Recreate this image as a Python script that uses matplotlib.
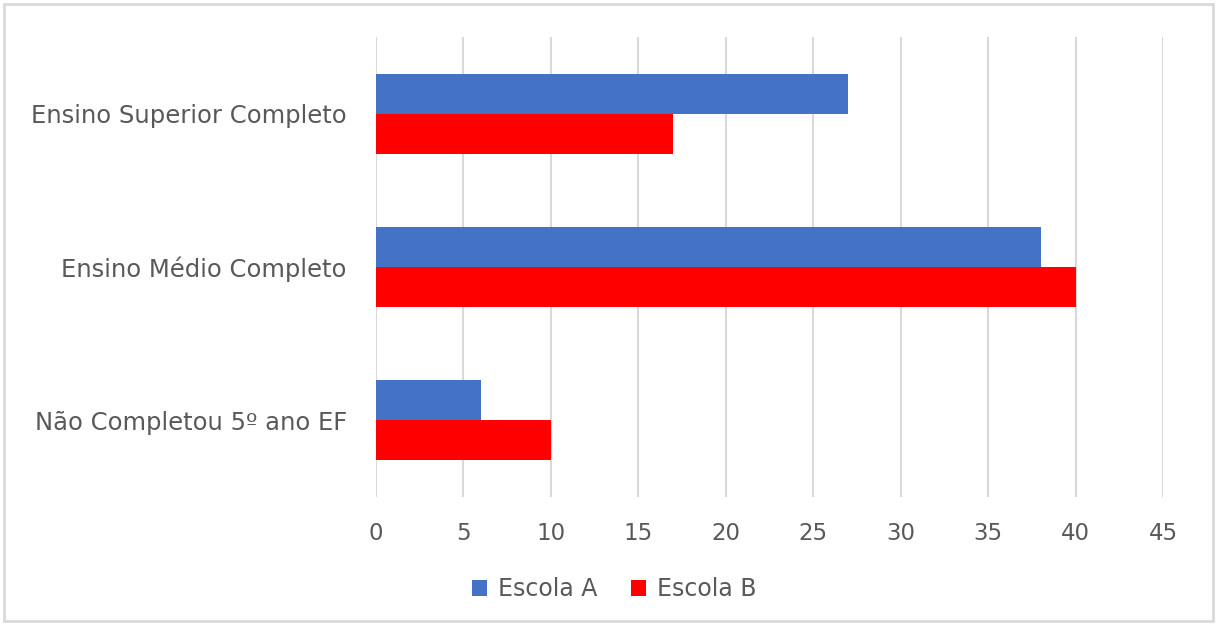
import numpy as np
import matplotlib.pyplot as plt
from matplotlib.patches import Rectangle

# dados
categorias = ['Não Completou 5º ano EF', 'Ensino Médio Completo', 'Ensino Superior Completo']
escola_a = [6, 38, 27]
escola_b = [10, 40, 17]
series = ['Escola A', 'Escola B']
cores = ['#4472C4', '#FF0000']

plt.rcParams['font.family'] = ['DejaVu Sans']
cinza = '#595959'

fig = plt.figure(figsize=(12.16, 6.27), dpi=100)
ax = fig.add_axes([0.3092, 0.2073, 0.6472, 0.7337])

y = np.arange(len(categorias))
h = 0.26
ax.barh(y + h / 2, escola_a, height=h, color=cores[0], label=series[0], zorder=3)
ax.barh(y - h / 2, escola_b, height=h, color=cores[1], label=series[1], zorder=3)

ax.set_xlim(0, 45)
ax.set_ylim(-0.5, 2.5)
ax.set_xticks(np.arange(0, 50, 5))
ax.set_yticks(y)
ax.set_yticklabels(categorias)
ax.tick_params(axis='both', length=0, labelsize=16.5, labelcolor=cinza)
ax.tick_params(axis='x', pad=18)
ax.tick_params(axis='y', pad=21, labelsize=17.5)
ax.grid(axis='x', color='#D9D9D9', linewidth=1.5, zorder=0)
for s in ax.spines.values():
    s.set_visible(False)

leg = fig.legend(loc='center', bbox_to_anchor=(0.505, 1 - 589 / 627), ncol=2,
                 frameon=False, fontsize=17, labelcolor=cinza,
                 handlelength=0.65, handleheight=0.65, handletextpad=0.45,
                 columnspacing=1.4)

fig.patches.append(Rectangle((4 / 1216, 1 - 621 / 627), 1209 / 1216, 617 / 627,
                             transform=fig.transFigure, fill=False,
                             edgecolor='#D9D9D9', linewidth=2))

fig.savefig('out.png', dpi=100)
